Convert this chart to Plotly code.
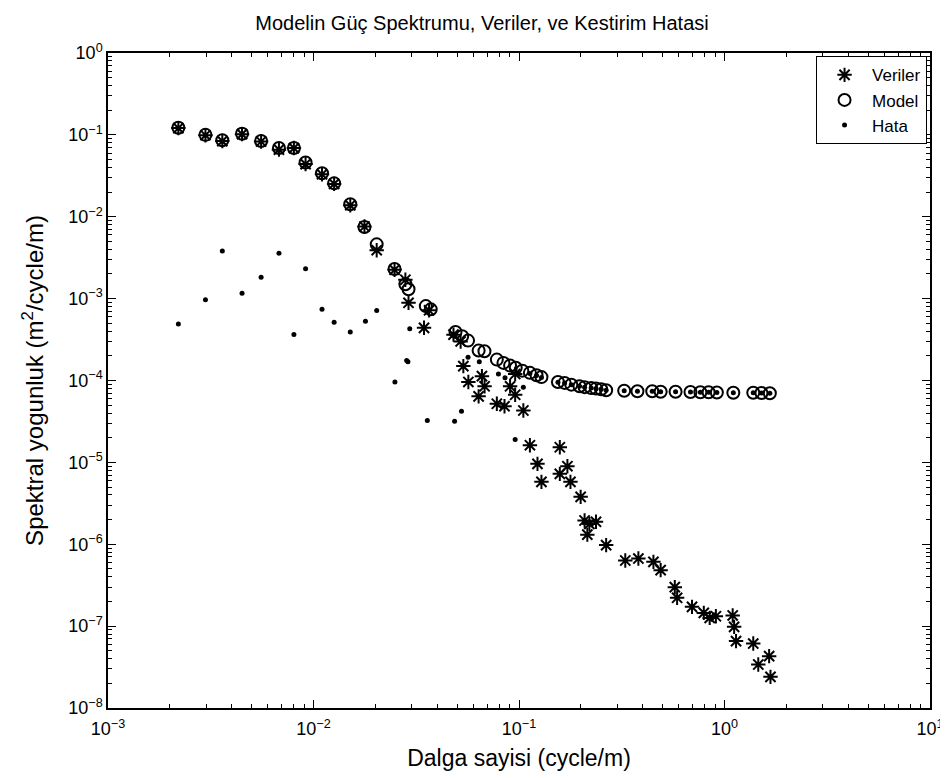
import plotly.graph_objects as go

# ---- data ----
veriler_x = [0.0022, 0.00298, 0.0036, 0.00449, 0.00556, 0.00679, 0.00803, 0.00915, 0.0110, 0.0126,
             0.0151, 0.0177, 0.0203, 0.0248, 0.0280, 0.0290, 0.0345, 0.0365,
             0.048, 0.052, 0.0536, 0.0567, 0.066, 0.068, 0.0636, 0.078, 0.085, 0.0958, 0.0905, 0.0958, 0.105,
             0.113, 0.123, 0.1286, 0.158, 0.158, 0.172, 0.178, 0.1995, 0.2085, 0.215, 0.220, 0.237, 0.2655,
             0.329, 0.381, 0.451, 0.489, 0.573, 0.588, 0.695, 0.793, 0.847, 0.908, 1.096, 1.114, 1.138,
             1.38, 1.46, 1.649, 1.674]
veriler_y = [0.121, 0.099, 0.084, 0.102, 0.083, 0.066, 0.069, 0.044, 0.033, 0.0252,
             0.0138, 0.0076, 0.0039, 0.00225, 0.0017, 0.00089, 0.00044, 0.00072,
             3.63e-4, 3.0e-4, 1.5e-4, 9.6e-5, 1.13e-4, 8.5e-5, 6.4e-5, 5.2e-5, 4.85e-5, 1.2e-4, 8.5e-5, 6.7e-5, 4.3e-5,
             1.62e-5, 9.6e-6, 5.78e-6, 1.53e-5, 7.24e-6, 8.98e-6, 5.78e-6, 3.79e-6, 1.95e-6, 1.31e-6, 1.77e-6, 1.88e-6, 9.76e-7,
             6.33e-7, 6.69e-7, 6.1e-7, 4.83e-7, 2.99e-7, 2.22e-7, 1.72e-7, 1.45e-7, 1.26e-7, 1.32e-7, 1.35e-7, 9.8e-8, 6.56e-8,
             6.13e-8, 3.4e-8, 4.3e-8, 2.4e-8]

model_x = [0.0022, 0.00298, 0.0036, 0.00449, 0.00556, 0.00679, 0.00803, 0.00915, 0.0110, 0.0126,
           0.0151, 0.0177, 0.0203, 0.0248, 0.0280, 0.0290, 0.0352, 0.0372,
           0.0491, 0.0529, 0.0565, 0.0636, 0.0679, 0.078, 0.084, 0.0905, 0.0964, 0.1038, 0.113, 0.1217, 0.1286,
           0.1547, 0.1667, 0.1797, 0.197, 0.2085, 0.2245, 0.237, 0.251,
           0.2655, 0.325, 0.377, 0.445, 0.489, 0.578, 0.683, 0.763, 0.837, 0.918, 1.104, 1.38, 1.513, 1.662]
model_y = [0.122, 0.100, 0.086, 0.103, 0.084, 0.069, 0.069, 0.046, 0.034, 0.0256,
           0.0142, 0.0075, 0.0046, 0.0023, 0.0015, 0.0013, 0.00081, 0.00074,
           3.92e-4, 3.47e-4, 3.07e-4, 2.32e-4, 2.28e-4, 1.80e-4, 1.64e-4, 1.52e-4, 1.43e-4, 1.32e-4, 1.24e-4, 1.16e-4, 1.10e-4,
           9.6e-5, 9.35e-5, 8.9e-5, 8.5e-5, 8.3e-5, 8.1e-5, 7.96e-5, 7.83e-5,
           7.6e-5, 7.5e-5, 7.4e-5, 7.4e-5, 7.3e-5, 7.3e-5, 7.25e-5, 7.2e-5, 7.2e-5, 7.15e-5, 7.1e-5, 7.1e-5, 7.05e-5, 7.0e-5]

hata_x = [0.0022, 0.00298, 0.0036, 0.00449, 0.00556, 0.00679, 0.00803, 0.00915, 0.0110, 0.0126,
          0.0151, 0.0179, 0.0203, 0.0249, 0.0284, 0.0288, 0.0294, 0.0358,
          0.0486, 0.0525, 0.0565, 0.0641, 0.0794, 0.0855, 0.0958, 0.105,
          0.113, 0.1217, 0.1286, 0.1547, 0.1667, 0.1797, 0.197, 0.2085, 0.2245, 0.237, 0.251,
          0.2655, 0.325, 0.377, 0.445, 0.489, 0.578, 0.683, 0.763, 0.837, 0.918, 1.104, 1.38, 1.513, 1.662]
hata_y = [4.91e-4, 9.72e-4, 3.82e-3, 1.16e-3, 1.82e-3, 3.58e-3, 3.64e-4, 2.31e-3, 7.42e-4, 5.15e-4,
          3.92e-4, 5.30e-4, 7.14e-4, 9.6e-5, 1.75e-4, 1.70e-4, 4.3e-4, 3.24e-5,
          3.19e-5, 4.22e-5, 1.92e-4, 1.69e-4, 1.2e-4, 1.08e-4, 1.9e-5, 8.3e-5,
          1.22e-4, 1.15e-4, 1.09e-4, 9.5e-5, 9.3e-5, 8.9e-5, 8.5e-5, 8.3e-5, 8.1e-5, 7.95e-5, 7.8e-5,
          7.6e-5, 7.5e-5, 7.4e-5, 7.4e-5, 7.3e-5, 7.3e-5, 7.25e-5, 7.2e-5, 7.2e-5, 7.15e-5, 7.1e-5, 7.1e-5, 7.05e-5, 7.0e-5]

x_tickvals = [1e-3, 1e-2, 1e-1, 1e0, 1e1]
x_ticktext = ["10<sup>−3</sup>", "10<sup>−2</sup>", "10<sup>−1</sup>", "10<sup>0</sup>", "10<sup>1</sup>"]
y_tickvals = [1e-8, 1e-7, 1e-6, 1e-5, 1e-4, 1e-3, 1e-2, 1e-1, 1e0]
y_ticktext = ["10<sup>−8</sup>", "10<sup>−7</sup>", "10<sup>−6</sup>", "10<sup>−5</sup>", "10<sup>−4</sup>",
              "10<sup>−3</sup>", "10<sup>−2</sup>", "10<sup>−1</sup>", "10<sup>0</sup>"]

x_minor = [k * 10.0 ** e for e in range(-3, 1) for k in range(2, 10)]
y_minor = [k * 10.0 ** e for e in range(-8, 0) for k in range(2, 10)]

FONT = "Liberation Sans, Arial, Helvetica, sans-serif"

fig = go.Figure()
fig.add_trace(go.Scatter(x=veriler_x, y=veriler_y, mode="markers", name="Veriler",
                         marker=dict(symbol="asterisk-open", size=12, color="black",
                                     line=dict(color="black", width=2))))
fig.add_trace(go.Scatter(x=model_x, y=model_y, mode="markers", name="Model",
                         marker=dict(symbol="circle-open", size=12, color="black",
                                     line=dict(color="black", width=2))))
fig.add_trace(go.Scatter(x=hata_x, y=hata_y, mode="markers", name="Hata",
                         marker=dict(symbol="circle", size=5, color="black")))

axis_common = dict(
    type="log", showgrid=False, zeroline=False, showline=True, linecolor="black", linewidth=1.5,
    mirror="ticks", ticks="inside", ticklen=8, tickwidth=1, tickcolor="black",
    tickfont=dict(family=FONT, size=18, color="black"),
)

fig.update_xaxes(**axis_common, range=[-3, 1], tickvals=x_tickvals, ticktext=x_ticktext,
                 minor=dict(ticks="inside", ticklen=4, tickcolor="black", showgrid=False, tickvals=x_minor),
                 ticklabelstandoff=4,
                 title=dict(text="Dalga sayisi (cycle/m)", font=dict(family=FONT, size=23, color="black"),
                            standoff=12))
fig.update_yaxes(**axis_common, range=[-8, 0], tickvals=y_tickvals, ticktext=y_ticktext,
                 minor=dict(ticks="inside", ticklen=4, tickcolor="black", showgrid=False, tickvals=y_minor),
                 title=dict(text="Spektral yogunluk (m<sup>2</sup>/cycle/m)",
                            font=dict(family=FONT, size=24, color="black"), standoff=18))

fig.update_layout(
    width=948, height=778,
    margin=dict(l=100, r=20, t=45, b=78),
    paper_bgcolor="white", plot_bgcolor="white",
    title=dict(text="Modelin Güç Spektrumu, Veriler, ve Kestirim Hatasi", x=0.5, xanchor="center",
               y=0.99, yanchor="top", font=dict(family=FONT, size=20, color="black")),
    legend=dict(x=0.9964, xanchor="right", y=0.995, yanchor="top", bgcolor="white",
                bordercolor="black", borderwidth=1, font=dict(family=FONT, size=17, color="black"),
                itemwidth=45, tracegroupgap=0),
    showlegend=True,
)

fig.write_html("out.html")
